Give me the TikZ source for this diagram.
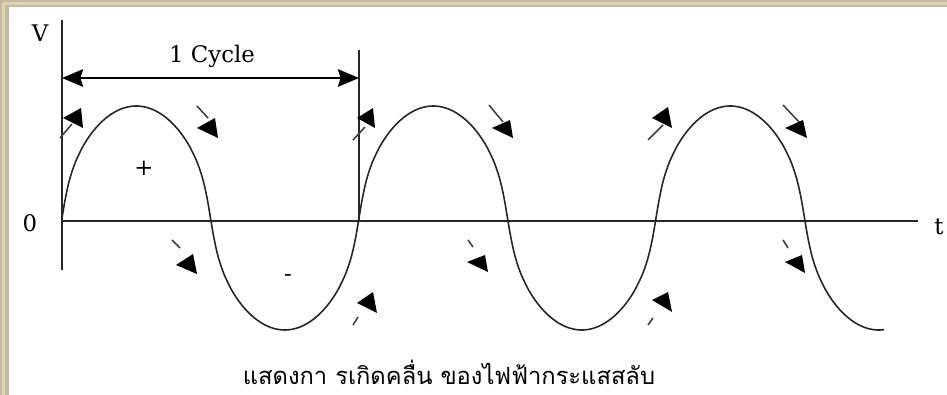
\documentclass[tikz,border=0pt]{standalone}
\usepackage{fontspec}
\setmainfont{DejaVu Serif}
\newfontfamily\thaifont[Script=Thai]{Loma}
\usetikzlibrary{arrows.meta}
\definecolor{framebeige}{RGB}{200,186,158}
\definecolor{framelight}{RGB}{222,210,184}
\begin{document}
\begin{tikzpicture}[x=0.02cm,y=-0.02cm,
  declare function={ss(\t)=sin(((\t-62)/297)*360); wv(\t)=ss(\t)*pow(ss(\t)*ss(\t)+0.0225,-0.25)/0.9945;},
  axisline/.style={line width=1.1pt,black!85},
  waveline/.style={line width=0.9pt,black!85},
  tri/.style={fill=black},
  tick/.style={line width=0.9pt,black!75},
  lbl/.style={inner sep=0pt,font=\fontsize{13}{15}\selectfont},
  cyc/.style={line width=1pt,{Stealth[length=12pt,width=10pt,inset=1.5pt]}-{Stealth[length=12pt,width=10pt,inset=1.5pt]}}]
\useasboundingbox (0,0) rectangle (947,395);
% frame
\fill[framebeige] (0,0) rectangle (947,395);
\fill[framelight] (3,2) rectangle (947,5);
\fill[framelight] (2,3) rectangle (5,395);
\fill[white] (9,7) rectangle (947,395);
% axes
\coordinate (vtop) at (62,20);
\coordinate (vbot) at (62,270);
\coordinate (hl) at (62,221);
\coordinate (hr) at (918,221);
\coordinate (ctop) at (359,50);
\coordinate (cbot) at (359,222);
\draw[axisline] (vtop) -- (vbot);
\draw[axisline] (hl) -- (hr);
\draw[axisline] (ctop) -- (cbot);
\coordinate (ca) at (62,78);
\coordinate (cb) at (359,78);
\draw[cyc] (ca) -- (cb);
% labels
\node[lbl] (V) at (40,33) {V};
\node[lbl] (zero) at (30,223) {0};
\node[lbl] (t) at (939,227) {t};
\node[lbl] (cycle) at (212,56) {1 Cycle};
\node[lbl] (plus) at (144,168) {+};
\node[lbl] (minus) at (288,278) {-};
% wave
\draw[waveline] plot[domain=62:884, samples=300, smooth] (\x, {218 - 112*wv(\x)});
% arrow marks, cycle 1
\draw[tick] (60,138) -- (72,124); \fill[tri] (63,118) -- (81,108) -- (83,128) -- cycle;
\draw[tick] (197,106) -- (208,118); \fill[tri] (197,128) -- (215,118) -- (218,138) -- cycle;
\draw[tick] (172,240) -- (180,248); \fill[tri] (176,265) -- (193,254) -- (197,274) -- cycle;
\draw[tick] (353,325) -- (358,317); \fill[tri] (357,303) -- (373,292) -- (377,313) -- cycle;
% cycle 2
\draw[tick] (353,140) -- (365,127); \fill[tri] (357,118) -- (373,108) -- (375,128) -- cycle;
\draw[tick] (489,105) -- (503,122); \fill[tri] (492,128) -- (510,120) -- (513,138) -- cycle;
\draw[tick] (468,240) -- (473,247); \fill[tri] (467,262) -- (485,255) -- (488,272) -- cycle;
\draw[tick] (648,325) -- (653,318); \fill[tri] (652,300) -- (668,292) -- (672,312) -- cycle;
% cycle 3
\draw[tick] (648,140) -- (663,125); \fill[tri] (652,118) -- (668,107) -- (672,128) -- cycle;
\draw[tick] (783,105) -- (800,123); \fill[tri] (785,128) -- (803,120) -- (807,138) -- cycle;
\draw[tick] (783,240) -- (788,248); \fill[tri] (785,262) -- (802,255) -- (805,273) -- cycle;
% caption
\node[inner sep=0pt,anchor=base,font=\thaifont\fontsize{13.5}{16}\selectfont] (caption) at (449,384) {แสดงกา รเกิดคลื่น ของไฟฟ้ากระแสสลับ};
\end{tikzpicture}
\end{document}
